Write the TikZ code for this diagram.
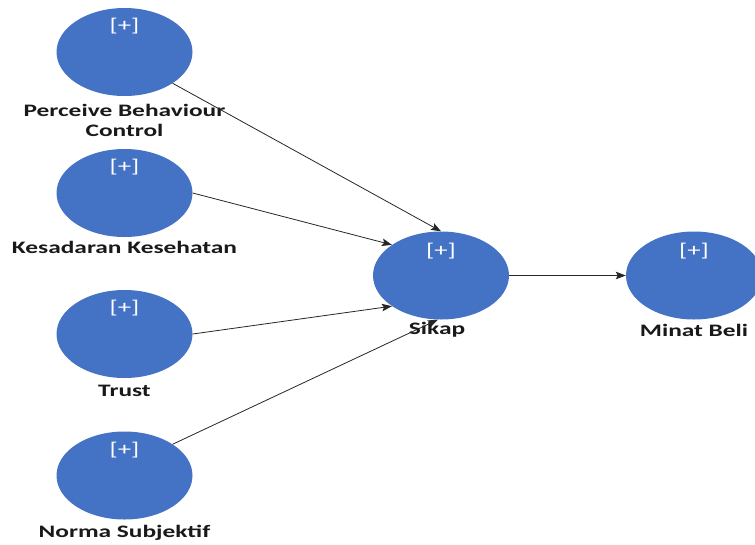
\documentclass[tikz,border=0pt]{standalone}
\usepackage{fontspec}
\newfontfamily\labfont[FakeStretch=1.45]{Carlito}
\usetikzlibrary{arrows.meta,shapes.geometric}
\definecolor{lvblue}{HTML}{4472C4}
\begin{document}
\begin{tikzpicture}[x=1pt,y=-1pt,
  lv/.style={ellipse,fill=lvblue,draw=none,minimum width=136pt,minimum height=88pt,inner sep=0pt},
  plus/.style={text=white,font=\labfont\fontsize{18.5}{20}\selectfont,inner sep=0pt},
  lab/.style={font=\labfont\bfseries\fontsize{17.5}{20}\selectfont,align=center,inner sep=0pt,text=black!90},
  path/.style={draw=black!85,line width=0.8pt,-{Stealth[length=10pt,width=7.5pt,inset=2pt]}}]
\useasboundingbox (0,0) rectangle (755,544);
% latent variables
\node[lv] (pbc) at (124.5,52) {};
\node[lv] (kes) at (124.5,193) {};
\node[lv] (tru) at (124.5,334) {};
\node[lv] (nor) at (124.5,475.5) {};
\node[lv] (sik) at (441,275.5) {};
\node[lv] (min) at (694,275.5) {};
% [+] markers
\node[plus] (pbcp) at (124.5,26) {[+]};
\node[plus] (kesp) at (124.5,167) {[+]};
\node[plus] (trup) at (124.5,308) {[+]};
\node[plus] (norp) at (124.5,450) {[+]};
\node[plus] (sikp) at (441,251) {[+]};
\node[plus] (minp) at (694,251) {[+]};
% labels
\node[lab] (pbcl) at (124.5,120) {Perceive Behaviour\\Control};
\node[lab] (kesl) at (124.5,247) {Kesadaran Kesehatan};
\node[lab] (trul) at (124.5,391) {Trust};
\node[lab] (norl) at (124.5,533) {Norma Subjektif};
\node[lab] (sikl) at (437,330) {Sikap};
\node[lab] (minl) at (694,330) {Minat Beli};
% paths
\draw[path] (pbc.-33) -- (sik.north);
\draw[path] (kes.east) -- (sik.148);
\draw[path] (tru.east) -- (sik.212);
\draw[path] (nor.33) -- (sik.266);
\draw[path] (sik.east) -- (min.west);
\end{tikzpicture}
\end{document}
